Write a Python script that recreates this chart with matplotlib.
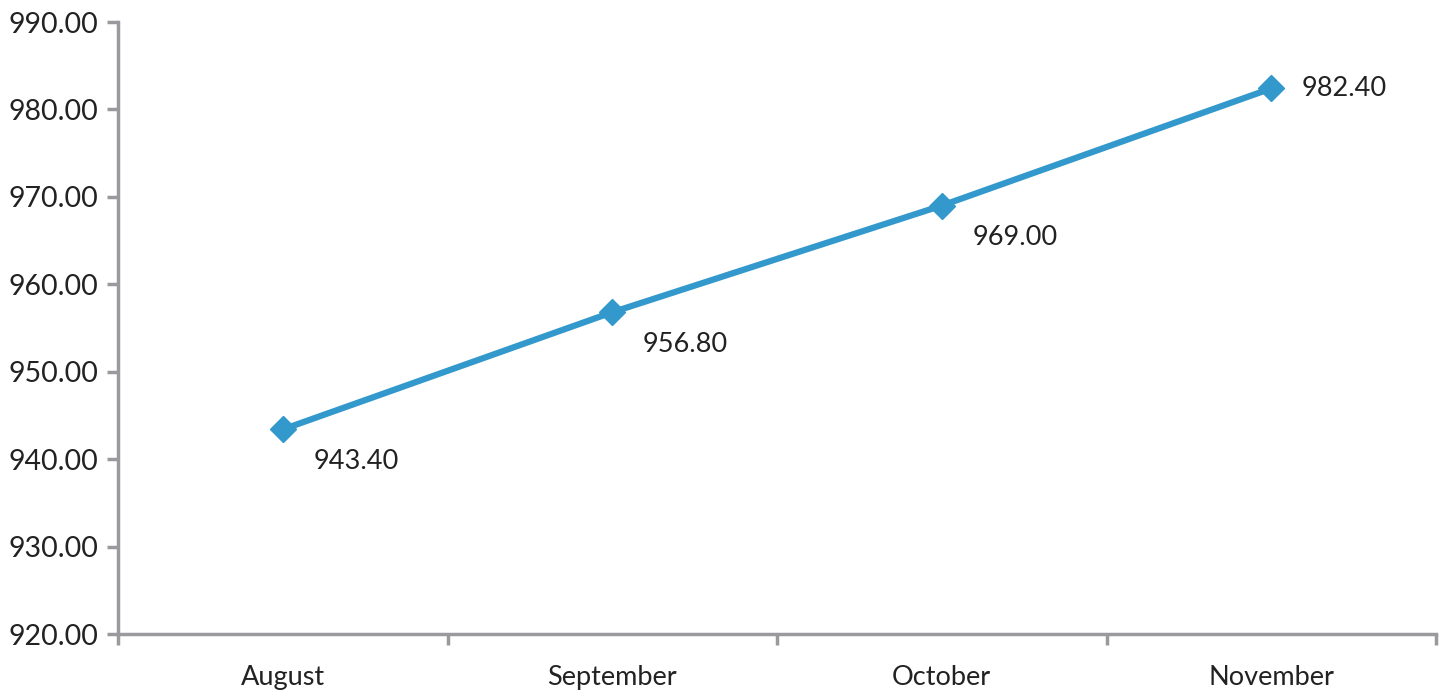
import matplotlib
matplotlib.use("Agg")
import matplotlib.pyplot as plt
from matplotlib.ticker import FixedLocator, FormatStrFormatter

months = ["August", "September", "October", "November"]
values = [943.40, 956.80, 969.00, 982.40]
yticks = [920, 930, 940, 950, 960, 970, 980, 990]

plt.rcParams['font.family'] = ['Lato', 'DejaVu Sans']
fig = plt.figure(figsize=(14.46, 6.93), dpi=100)
ax = fig.add_axes([118/1446, 1 - 634/693, (1436 - 118)/1446, (634 - 22)/693])

x = list(range(len(months)))
color = "#3399cc"
ax.plot(x, values, color=color, lw=4.5, marker="D", ms=13, mec=color, mfc=color, zorder=3)

for i, v in enumerate(values):
    if i == len(values) - 1:
        ax.annotate(f"{v:.2f}", (i, v), xytext=(22, 0), textcoords="offset points",
                    ha="left", va="center", fontsize=19.5, color="#222222")
    else:
        ax.annotate(f"{v:.2f}", (i, v), xytext=(22, -23), textcoords="offset points",
                    ha="left", va="center", fontsize=19.5, color="#222222")

ax.set_xlim(-0.5, len(months) - 0.5)
ax.set_ylim(920, 990)
ax.set_yticks(yticks)
ax.yaxis.set_major_formatter(FormatStrFormatter("%.2f"))
ax.set_xticks(x)
ax.set_xticklabels(months)
ax.xaxis.set_minor_locator(FixedLocator([i - 0.5 for i in range(len(months) + 1)]))

spine_c = "#9a9a9e"
for s in ["top", "right"]:
    ax.spines[s].set_visible(False)
for s in ["left", "bottom"]:
    ax.spines[s].set_color(spine_c)
    ax.spines[s].set_linewidth(2.5)

ax.tick_params(axis="y", direction="out", length=8, width=2.5, color=spine_c,
               labelsize=20.5, labelcolor="#222222", pad=6)
ax.tick_params(axis="x", which="major", length=0, labelsize=19.5, labelcolor="#222222", pad=22)
ax.tick_params(axis="x", which="minor", direction="out", length=8, width=2.5, color=spine_c)

fig.savefig("out.png", dpi=100)
